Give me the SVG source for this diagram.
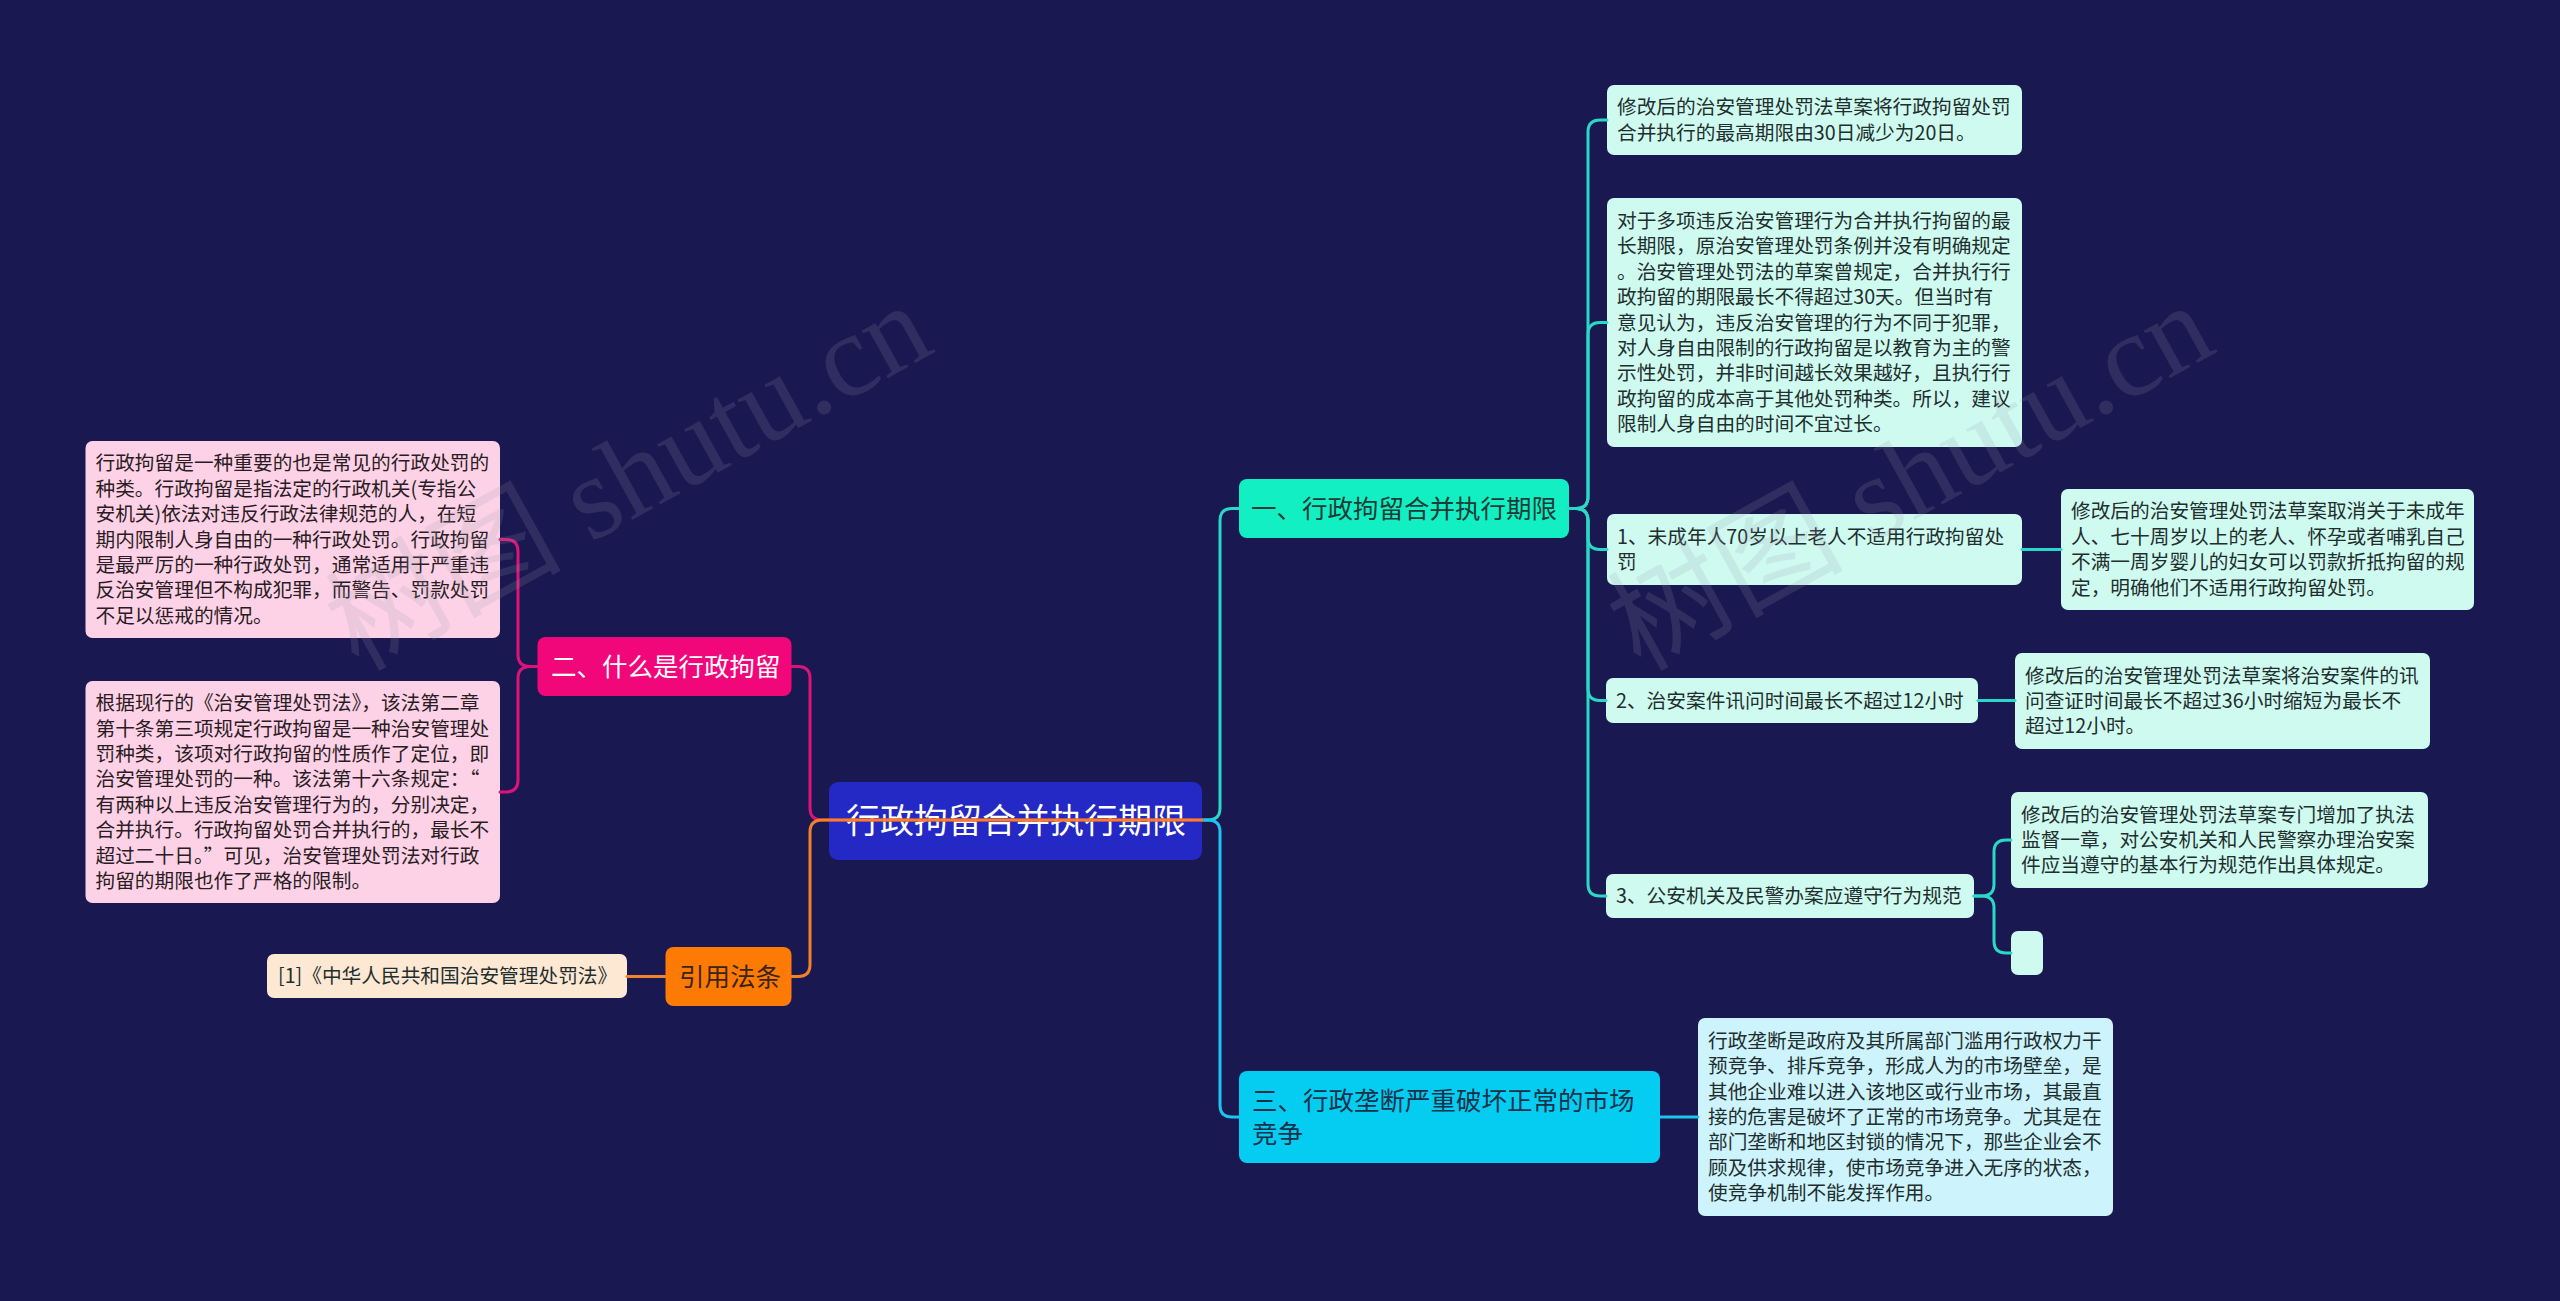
<svg xmlns="http://www.w3.org/2000/svg" width="2560" height="1301" viewBox="0 0 2560 1301">
<style>
text{font-family:"Noto Sans CJK SC","Noto Sans",sans-serif;}
.leaf{font-size:19.7px;fill:#1f2e2e;}
.leafp{font-size:19.7px;fill:#2a1c24;}
.lvl1{font-size:25.5px;}
.ln{fill:none;stroke-width:3;stroke-linecap:round;stroke-linejoin:round;}
.cy{stroke:#2ad8c8;}
.bl{stroke:#1ec4f0;}
.pk{stroke:#dc1479;}
.or{stroke:#f08228;}
.wm{font-family:"Liberation Serif","Noto Sans CJK SC",serif;font-size:118px;fill:#9a9ab0;opacity:0.17;}
</style>
<rect width="2560" height="1301" fill="#1a1850"/>

<g id="nodes">
<g id="root"><rect x="829" y="782" width="373" height="78" rx="9" fill="#2428c4"/><text x="1016" y="833" text-anchor="middle" font-size="34" fill="#ffffff">行政拘留合并执行期限</text></g>

<g id="n1"><rect x="1239" y="479" width="330" height="59" rx="8" fill="#12efc3"/><text class="lvl1" x="1251" y="517.5" fill="#1e3a36">一、行政拘留合并执行期限</text></g>

<g id="n3"><rect x="1239" y="1071" width="421" height="92" rx="8" fill="#05cdf2"/><text class="lvl1" x="1252" y="1110" fill="#16324a"><tspan x="1252">三、行政垄断严重破坏正常的市场</tspan><tspan x="1252" dy="33">竞争</tspan></text></g>

<g id="n2"><rect x="537.5" y="637" width="254" height="59" rx="8" fill="#f2077b"/><text class="lvl1" x="551" y="675.5" fill="#ffffff">二、什么是行政拘留</text></g>

<g id="nref"><rect x="665.5" y="947" width="126" height="59" rx="8" fill="#fd7b04"/><text class="lvl1" x="679" y="985.5" fill="#3a2412">引用法条</text></g>

<g id="l1"><rect x="1607" y="85" width="415" height="70" rx="7" fill="#cffaf0"/><text class="leaf" x="1617" y="114.3"><tspan x="1617">修改后的治安管理处罚法草案将行政拘留处罚</tspan><tspan x="1617" dy="25.4">合并执行的最高期限由30日减少为20日。</tspan></text></g>

<g id="l2"><rect x="1607" y="198" width="415" height="249" rx="7" fill="#cffaf0"/><text class="leaf" x="1617" y="227.9"><tspan x="1617">对于多项违反治安管理行为合并执行拘留的最</tspan><tspan x="1617" dy="25.4">长期限，原治安管理处罚条例并没有明确规定</tspan><tspan x="1617" dy="25.4">。治安管理处罚法的草案曾规定，合并执行行</tspan><tspan x="1617" dy="25.4">政拘留的期限最长不得超过30天。但当时有</tspan><tspan x="1617" dy="25.4">意见认为，违反治安管理的行为不同于犯罪，</tspan><tspan x="1617" dy="25.4">对人身自由限制的行政拘留是以教育为主的警</tspan><tspan x="1617" dy="25.4">示性处罚，并非时间越长效果越好，且执行行</tspan><tspan x="1617" dy="25.4">政拘留的成本高于其他处罚种类。所以，建议</tspan><tspan x="1617" dy="25.4">限制人身自由的时间不宜过长。</tspan></text></g>

<g id="s1"><rect x="1607" y="514" width="415" height="71" rx="7" fill="#cffaf0"/><text class="leaf" x="1617" y="543.8"><tspan x="1617">1、未成年人70岁以上老人不适用行政拘留处</tspan><tspan x="1617" dy="25.4">罚</tspan></text></g>

<g id="s1r"><rect x="2061" y="489" width="413" height="121" rx="7" fill="#cffaf0"/><text class="leaf" x="2071" y="518.4"><tspan x="2071">修改后的治安管理处罚法草案取消关于未成年</tspan><tspan x="2071" dy="25.4">人、七十周岁以上的老人、怀孕或者哺乳自己</tspan><tspan x="2071" dy="25.4">不满一周岁婴儿的妇女可以罚款折抵拘留的规</tspan><tspan x="2071" dy="25.4">定，明确他们不适用行政拘留处罚。</tspan></text></g>

<g id="s2"><rect x="1606" y="678" width="372" height="45" rx="7" fill="#cffaf0"/><text class="leaf" x="1616" y="707.5">2、治安案件讯问时间最长不超过12小时</text></g>

<g id="s2r"><rect x="2015" y="653" width="415" height="96" rx="7" fill="#cffaf0"/><text class="leaf" x="2025" y="682.6"><tspan x="2025">修改后的治安管理处罚法草案将治安案件的讯</tspan><tspan x="2025" dy="25.4">问查证时间最长不超过36小时缩短为最长不</tspan><tspan x="2025" dy="25.4">超过12小时。</tspan></text></g>

<g id="s3"><rect x="1606" y="874" width="368" height="44" rx="7" fill="#cffaf0"/><text class="leaf" x="1616" y="903">3、公安机关及民警办案应遵守行为规范</text></g>

<g id="s3r"><rect x="2011" y="792" width="417" height="96" rx="7" fill="#cffaf0"/><text class="leaf" x="2021" y="821.6"><tspan x="2021">修改后的治安管理处罚法草案专门增加了执法</tspan><tspan x="2021" dy="25.4">监督一章，对公安机关和人民警察办理治安案</tspan><tspan x="2021" dy="25.4">件应当遵守的基本行为规范作出具体规定。</tspan></text></g>

<g id="s3e"><rect x="2011" y="931" width="32" height="44" rx="7" fill="#cffaf0"/></g>

<g id="t1"><rect x="1698" y="1018" width="415" height="198" rx="7" fill="#cdf3fc"/><text class="leaf" x="1708" y="1047.8" fill="#1c2c36"><tspan x="1708">行政垄断是政府及其所属部门滥用行政权力干</tspan><tspan x="1708" dy="25.4">预竞争、排斥竞争，形成人为的市场壁垒，是</tspan><tspan x="1708" dy="25.4">其他企业难以进入该地区或行业市场，其最直</tspan><tspan x="1708" dy="25.4">接的危害是破坏了正常的市场竞争。尤其是在</tspan><tspan x="1708" dy="25.4">部门垄断和地区封锁的情况下，那些企业会不</tspan><tspan x="1708" dy="25.4">顾及供求规律，使市场竞争进入无序的状态，</tspan><tspan x="1708" dy="25.4">使竞争机制不能发挥作用。</tspan></text></g>

<g id="p1"><rect x="85.5" y="441" width="414.5" height="197" rx="7" fill="#fdd2e6"/><text class="leafp" x="95.5" y="470.3"><tspan x="95.5">行政拘留是一种重要的也是常见的行政处罚的</tspan><tspan x="95.5" dy="25.4">种类。行政拘留是指法定的行政机关(专指公</tspan><tspan x="95.5" dy="25.4">安机关)依法对违反行政法律规范的人，在短</tspan><tspan x="95.5" dy="25.4">期内限制人身自由的一种行政处罚。行政拘留</tspan><tspan x="95.5" dy="25.4">是最严厉的一种行政处罚，通常适用于严重违</tspan><tspan x="95.5" dy="25.4">反治安管理但不构成犯罪，而警告、罚款处罚</tspan><tspan x="95.5" dy="25.4">不足以惩戒的情况。</tspan></text></g>

<g id="p2"><rect x="85.5" y="681" width="414.5" height="222" rx="7" fill="#fdd2e6"/><text class="leafp" x="95.5" y="710.1"><tspan x="95.5">根据现行的《治安管理处罚法》，该法第二章</tspan><tspan x="95.5" dy="25.4">第十条第三项规定行政拘留是一种治安管理处</tspan><tspan x="95.5" dy="25.4">罚种类，该项对行政拘留的性质作了定位，即</tspan><tspan x="95.5" dy="25.4">治安管理处罚的一种。该法第十六条规定：“</tspan><tspan x="95.5" dy="25.4">有两种以上违反治安管理行为的，分别决定，</tspan><tspan x="95.5" dy="25.4">合并执行。行政拘留处罚合并执行的，最长不</tspan><tspan x="95.5" dy="25.4">超过二十日。”可见，治安管理处罚法对行政</tspan><tspan x="95.5" dy="25.4">拘留的期限也作了严格的限制。</tspan></text></g>

<g id="r1"><rect x="267" y="954" width="360" height="44" rx="7" fill="#fde8d3"/><text class="leaf" x="278" y="983" fill="#2e2418">[1]《中华人民共和国治安管理处罚法》</text></g>
</g>

<g id="connectors">
<path class="ln cy" d="M1202 820 H1208 Q1220 820 1220 808 V520.5 Q1220 508.5 1232 508.5 H1239"/>
<path class="ln bl" d="M1202 820 H1208 Q1220 820 1220 832 V1105 Q1220 1117 1232 1117 H1239"/>
<path class="ln pk" d="M1202 820 H822 Q810 820 810 808 V678.5 Q810 666.5 798 666.5 H791.5"/>
<path class="ln or" d="M1202 820 H822 Q810 820 810 832 V964.5 Q810 976.5 798 976.5 H791.5"/>
<path class="ln pk" d="M537.5 666.5 H530 Q518 666.5 518 654.5 V551.5 Q518 539.5 506 539.5 H500"/>
<path class="ln pk" d="M537.5 666.5 H530 Q518 666.5 518 678.5 V780 Q518 792 506 792 H500"/>
<path class="ln or" d="M665.5 976.5 H627"/>
<path class="ln cy" d="M1569 508.5 H1576 Q1588 508.5 1588 496.5 V132 Q1588 120 1600 120 H1607"/>
<path class="ln cy" d="M1569 508.5 H1576 Q1588 508.5 1588 496.5 V334.5 Q1588 322.5 1600 322.5 H1607"/>
<path class="ln cy" d="M1569 508.5 H1576 Q1588 508.5 1588 520.5 V537.5 Q1588 549.5 1600 549.5 H1607"/>
<path class="ln cy" d="M1569 508.5 H1576 Q1588 508.5 1588 520.5 V688.5 Q1588 700.5 1600 700.5 H1606"/>
<path class="ln cy" d="M1569 508.5 H1576 Q1588 508.5 1588 520.5 V884 Q1588 896 1600 896 H1606"/>
<path class="ln cy" d="M2022 549.5 H2061"/>
<path class="ln cy" d="M1978 700.5 H2015"/>
<path class="ln cy" d="M1974 896 H1982 Q1994 896 1994 884 V852 Q1994 840 2006 840 H2011"/>
<path class="ln cy" d="M1974 896 H1982 Q1994 896 1994 908 V941 Q1994 953 2006 953 H2011"/>
<path class="ln bl" d="M1660 1117 H1698"/>
</g>

<g id="watermark">
<text class="wm" transform="translate(358 672) rotate(-29)">树图 shutu.cn</text>
<text class="wm" transform="translate(1640 672) rotate(-29)">树图 shutu.cn</text>
</g>
</svg>
